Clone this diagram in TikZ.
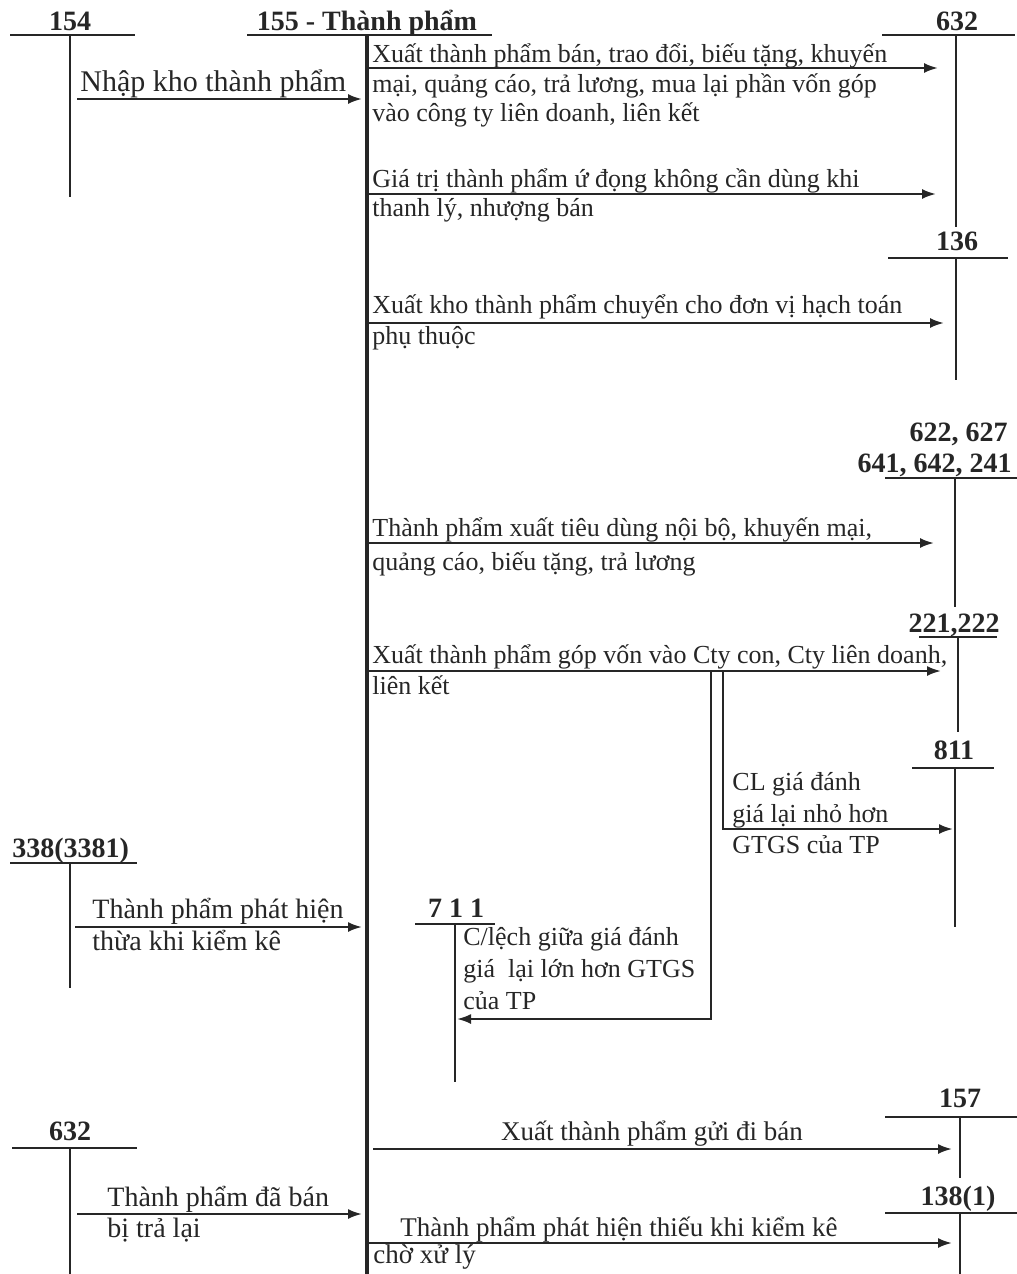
\documentclass[tikz,border=0pt]{standalone}
\usepackage{fontspec}
\setmainfont{Liberation Serif}
\usetikzlibrary{arrows.meta}
\newcommand{\Tacc}[6]{%
  \coordinate (#1L) at (#4,#3); \coordinate (#1R) at (#5,#3);
  \coordinate (#1T) at (#2,#3); \coordinate (#1B) at (#2,#6);
  \draw[acc] (#1L) -- (#1R); \draw[acc] (#1T) -- (#1B);}
\begin{document}
\begin{tikzpicture}[x=0.5pt,y=-0.5pt,
  acc/.style={line width=1pt, draw=black!85},
  mainacc/.style={line width=2pt, draw=black!85},
  flow/.style={line width=1.1pt, draw=black!85, -{Latex[length=7pt,width=5pt]}},
  lbl/.style={font=\fontsize{14}{16}\selectfont\bfseries, inner sep=0, anchor=base, text=black!85},
  txt/.style={font=\fontsize{13}{15}\selectfont, inner sep=0, anchor=base west, text=black!85},
  txtl/.style={font=\fontsize{14}{16}\selectfont, inner sep=0, anchor=base west, text=black!85}]
\useasboundingbox (0,0) rectangle (1017,1274);

% ---------- T accounts ----------
\node[lbl] (l154) at (70,30) {154};
\Tacc{a154}{70}{35}{10}{135}{197}

\node[lbl] (l155) at (367,30) {155 - Thành phẩm};
\coordinate (a155L) at (247,35); \coordinate (a155R) at (492,35);
\coordinate (a155T) at (367,35); \coordinate (a155B) at (367,1274);
\draw[acc] (a155L) -- (a155R);
\draw[mainacc] (a155T) -- (a155B);

\node[lbl] (l632a) at (957,30) {632};
\Tacc{a632}{956}{35}{882}{1015}{227}

\node[lbl] (l136) at (957,250) {136};
\Tacc{a136}{956}{258}{888}{1008}{380}

\node[lbl, anchor=base east] (l622) at (1008,441) {622, 627};
\node[lbl, anchor=base east] (l641) at (1012,472) {641, 642, 241};
\Tacc{a641}{955}{478}{885}{1017}{607}

\node[lbl] (l221) at (954,632) {221,222};
\Tacc{a221}{958}{637}{919}{997}{732}

\node[lbl] (l811) at (954,759) {811};
\Tacc{a811}{955}{768}{912}{994}{927}

\node[lbl, anchor=base west] (l338) at (12,857) {338(3381)};
\Tacc{a338}{70}{863}{10}{137}{988}

\node[lbl] (l711) at (456,917) {7 1 1};
\Tacc{a711}{455}{924}{415}{495}{1082}

\node[lbl] (l632b) at (70,1140) {632};
\Tacc{b632}{70}{1148}{12}{137}{1274}

\node[lbl] (l157) at (960,1107) {157};
\Tacc{a157}{960}{1117}{885}{1017}{1178}

\node[lbl] (l138) at (958,1205) {138(1)};
\Tacc{a138}{960}{1213}{885}{1017}{1274}

% ---------- flows ----------
\coordinate (s0) at (77,99);   \coordinate (e0) at (362,99);
\draw[flow] (s0) -- (e0);
\node[txt, font=\fontsize{15}{17}\selectfont] (t0) at (80,91) {Nhập kho thành phẩm};

\coordinate (s1) at (367,68);  \coordinate (e1) at (938,68);
\draw[flow] (s1) -- (e1);
\node[txt] (t1a) at (372,62) {Xuất thành phẩm bán, trao đổi, biếu tặng, khuyến};
\node[txt] (t1b) at (372,92) {mại, quảng cáo, trả lương, mua lại phần vốn góp};
\node[txt] (t1c) at (372,121) {vào công ty liên doanh, liên kết};

\coordinate (s2) at (367,194); \coordinate (e2) at (936,194);
\draw[flow] (s2) -- (e2);
\node[txt] (t2a) at (372,187) {Giá trị thành phẩm ứ đọng không cần dùng khi};
\node[txt] (t2b) at (372,216) {thanh lý, nhượng bán};

\coordinate (s3) at (367,323); \coordinate (e3) at (944,323);
\draw[flow] (s3) -- (e3);
\node[txt] (t3a) at (372,313) {Xuất kho thành phẩm chuyển cho đơn vị hạch toán};
\node[txt] (t3b) at (372,344) {phụ thuộc};

\coordinate (s4) at (367,543); \coordinate (e4) at (934,543);
\draw[flow] (s4) -- (e4);
\node[txt] (t4a) at (372,536) {Thành phẩm xuất tiêu dùng nội bộ, khuyến mại,};
\node[txt] (t4b) at (372,570) {quảng cáo, biếu tặng, trả lương};

\coordinate (s5) at (367,671); \coordinate (e5) at (941,671);
\draw[flow] (s5) -- (e5);
\node[txt] (t5a) at (372,663) {Xuất thành phẩm góp vốn vào Cty con, Cty liên doanh,};
\node[txt] (t5b) at (372,694) {liên kết};

\coordinate (s6) at (711,671); \coordinate (e6) at (457,1019);
\draw[flow] (s6) |- (e6);
\node[txt] (t6a) at (463,945) {C/lệch giữa giá đánh};
\node[txt] (t6b) at (463,977) {giá\ \ lại lớn hơn GTGS};
\node[txt] (t6c) at (463,1009) {của TP};

\coordinate (s7) at (723,671); \coordinate (e7) at (953,829);
\draw[flow] (s7) |- (e7);
\node[txt] (t7a) at (732,790) {CL giá đánh};
\node[txt] (t7b) at (732,822) {giá lại nhỏ hơn};
\node[txt] (t7c) at (732,853) {GTGS của TP};

\coordinate (s8) at (75,927);  \coordinate (e8) at (362,927);
\draw[flow] (s8) -- (e8);
\node[txtl] (t8a) at (92,918) {Thành phẩm phát hiện};
\node[txtl] (t8b) at (92,950) {thừa khi kiểm kê};

\coordinate (s9) at (373,1149); \coordinate (e9) at (952,1149);
\draw[flow] (s9) -- (e9);
\node[txt, anchor=base, font=\fontsize{13.5}{15}\selectfont] (t9) at (652,1140) {Xuất thành phẩm gửi đi bán};

\coordinate (s10) at (77,1214); \coordinate (e10) at (362,1214);
\draw[flow] (s10) -- (e10);
\node[txtl] (t10a) at (107,1206) {Thành phẩm đã bán};
\node[txtl] (t10b) at (107,1237) {bị trả lại};

\coordinate (s11) at (367,1243); \coordinate (e11) at (952,1243);
\draw[flow] (s11) -- (e11);
\node[txt, font=\fontsize{13.5}{15}\selectfont] (t11a) at (400,1236) {Thành phẩm phát hiện thiếu khi kiểm kê};
\node[txt, font=\fontsize{13.5}{15}\selectfont] (t11b) at (373,1263) {chờ xử lý};
\end{tikzpicture}
\end{document}
